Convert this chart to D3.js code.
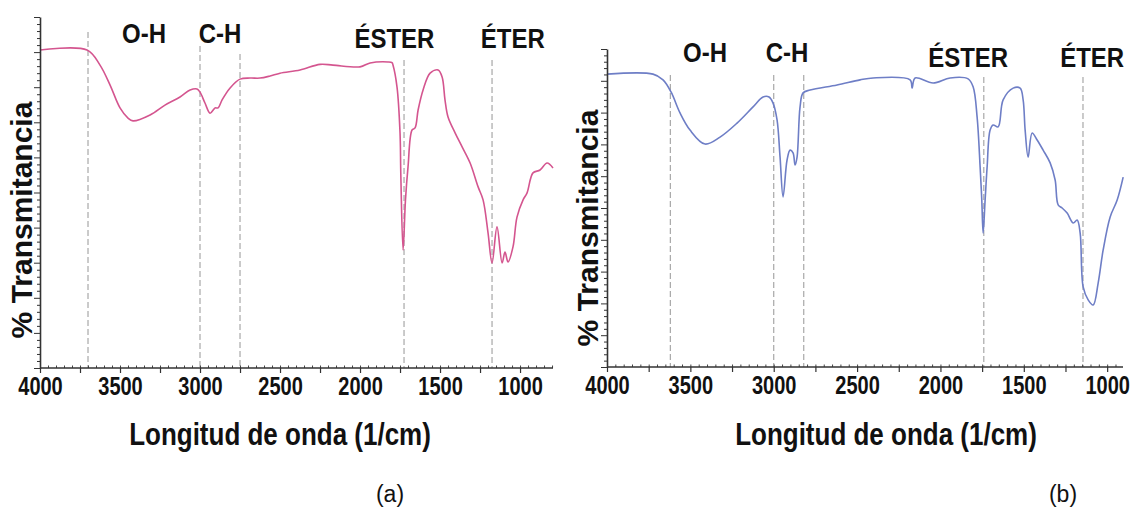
<!DOCTYPE html>
<html>
<head>
<meta charset="utf-8">
<script src="https://cdn.jsdelivr.net/npm/d3@7"></script>
<style>
body{margin:0;background:#fff;}
text{font-family:"Liberation Sans",Arial,sans-serif;fill:#111;}
</style>
</head>
<body>
<div id="chart"></div>
<script>
// spectrum (a)
var waveA = [4000,3706,3625,3562,3500,3450,3419,3312,3219,3125,3062,3019,3000,2969,2937,2906,2887,2862,2812,2750,2687,2625,2562,2500,2375,2250,2169,2000,1937,1825,1800,1794,1769,1750,1745,1731,1716,1700,1675,1656,1637,1606,1562,1512,1487,1469,1450,1406,1362,1312,1262,1231,1200,1175,1144,1112,1094,1075,1044,1019,981,956,919,875,831,794];
var transA = [90.6,90.6,86.3,80.6,74.1,71.2,70.4,72.1,74.9,77.2,79.2,79.5,78.6,75.5,72.6,74.1,74.1,76.4,79.8,82.3,82.6,82.6,83.2,84.0,84.9,86.5,86.3,85.8,86.9,87.2,87.0,86.3,80.1,67.0,55.0,33.6,47.9,57.3,67.8,68.4,73.5,79.2,84.0,84.9,82.9,76.4,71.5,67.0,63.0,58.4,51.6,47.9,38.5,29.9,40.2,29.9,33.0,30.2,34.5,43.0,47.9,49.9,55.6,56.4,58.4,57.0];

// spectrum (b)
var waveB = [4000,3724,3664,3616,3562,3502,3412,3322,3220,3124,3064,3028,3004,2980,2962,2944,2920,2902,2884,2872,2860,2842,2824,2782,2620,2482,2404,2182,2170,2152,2044,1942,1834,1804,1780,1762,1752,1744,1732,1720,1702,1684,1654,1624,1564,1522,1504,1492,1474,1450,1420,1384,1342,1312,1294,1270,1240,1204,1180,1162,1144,1114,1084,1054,1024,982,940,904];
var transB = [92.1,92.1,90.3,86.5,79.9,74.5,70.1,72.3,76.7,81.8,84.9,84.9,83.0,77.7,66.0,53.5,65.1,68.2,67.3,63.5,66.0,81.8,86.2,87.1,88.7,90.3,90.9,90.3,87.7,90.9,89.3,90.9,90.6,88.1,78.6,62.9,52.5,42.1,52.5,62.9,74.5,76.1,75.5,84.0,87.7,87.7,84.0,74.5,66.0,73.6,71.4,68.2,64.2,58.8,51.0,50.0,48.4,45.3,46.2,42.1,25.2,21.1,19.5,26.4,36.8,47.2,52.5,59.7];

var xTicks = [4000,3500,3000,2500,2000,1500,1000];
var groupNames = ["O-H","C-H","ÉSTER","ÉTER"];
var markersA = [3700,3000,2750,1725,1175];
var markersB = [3620,3000,2820,1740,1145];
var labelWaveA = [3350,2875,1785,1045];
var labelWaveB = [3412,2920,1834,1090];
var panelNames = ["(a)","(b)"];

var svg = d3.select("#chart").append("svg")
	.attr("width",1136)
	.attr("height",509);

function drawPanel(p){
	var x = d3.scaleLinear().domain(p.domain).range([p.left,p.right]);
	var y = d3.scaleLinear().domain([0,100]).range([p.bottom,p.top]);
	var g = svg.append("g");

	// dashed guide lines
	g.selectAll("line.guide")
		.data(p.markers)
		.enter()
		.append("line")
		.attr("class","guide")
		.attr("x1",function(d){ return x(d); })
		.attr("x2",function(d){ return x(d); })
		.attr("y1",function(d,i){ return p.guideTop[i]; })
		.attr("y2",p.bottom)
		.attr("stroke","#a8a8a8")
		.attr("stroke-width",1.2)
		.attr("stroke-dasharray","6,3");

	// spectrum
	var line = d3.line()
		.x(function(d,i){ return x(p.wave[i]); })
		.y(function(d){ return y(d); })
		.curve(d3.curveCatmullRom.alpha(0.5));
	g.append("path")
		.datum(p.trans)
		.attr("d",line)
		.attr("fill","none")
		.attr("stroke",p.color)
		.attr("stroke-width",1.6);

	// x axis: small ticks above, bigger ticks below
	var minor = d3.range(p.domain[0],p.domain[1],-50);
	g.append("g")
		.attr("transform","translate(0,"+p.bottom+")")
		.call(d3.axisTop(x).tickValues(minor).tickSize(2.5).tickFormat(""))
		.call(function(a){ a.select(".domain").remove(); a.selectAll("line").attr("stroke","#444"); });
	var xAxis = g.append("g")
		.attr("transform","translate(0,"+p.bottom+")")
		.call(d3.axisBottom(x).tickValues(d3.range(4000,p.domain[1],-250)).tickSize(5).tickSizeOuter(0)
			.tickFormat(function(d){ return xTicks.indexOf(d)>=0 ? d : ""; }));
	xAxis.select(".domain").attr("stroke","#333").attr("stroke-width",1.6).attr("d","M"+p.left+",0H"+p.right);
	xAxis.selectAll("line").attr("stroke","#333").attr("stroke-width",1.2);
	xAxis.selectAll("text")
		.attr("y",21.5).attr("dy",0)
		.attr("transform","scale(1,1.25)")
		.style("font-size","20px")
		.style("font-weight","bold")
		.attr("fill","#111");

	// y axis with no labels
	var yAxis = g.append("g")
		.attr("transform","translate("+p.left+",0)")
		.call(d3.axisLeft(y).tickValues(d3.range(0,101,2)).tickSize(3).tickFormat("").tickSizeOuter(0));
	yAxis.selectAll(".tick line")
		.attr("x2",function(d){ return d%10===0 ? -6 : -3; })
		.attr("stroke","#333");
	yAxis.select(".domain").attr("stroke","#333").attr("stroke-width",1.6);

	// group labels
	g.selectAll("text.grp")
		.data(groupNames)
		.enter()
		.append("text")
		.attr("class","grp")
		.attr("transform",function(d,i){
			return "translate("+x(p.labelWave[i])+","+(i<2 ? p.labelY : p.labelY+5)+") scale(1,1.12)";
		})
		.attr("text-anchor","middle")
		.style("font-size","24px")
		.style("font-weight","bold")
		.text(function(d){ return d; });

	// axis titles
	g.append("text")
		.attr("transform","translate("+p.yTitleX+","+p.yTitleY+") rotate(-90)")
		.attr("text-anchor","middle")
		.style("font-size","30px")
		.style("font-weight","bold")
		.text("% Transmitancia");
	g.append("text")
		.attr("transform","translate("+p.xTitleX+",445) scale(1,1.2)")
		.attr("text-anchor","middle")
		.style("font-size","26px")
		.style("font-weight","bold")
		.text("Longitud de onda (1/cm)");
	g.append("text")
		.attr("x",p.nameX)
		.attr("y",502)
		.attr("text-anchor","middle")
		.style("font-size","23px")
		.text(p.name);
}

drawPanel({
	wave:waveA, trans:transA, domain:[4000,794], markers:markersA, labelWave:labelWaveA,
	left:40, right:553, top:17, bottom:368, guideTop:[32,46,54,60,60], labelY:43,
	color:"#d4558f", yTitleX:32, yTitleY:220, xTitleX:280, nameX:390, name:panelNames[0]
});
drawPanel({
	wave:waveB, trans:transB, domain:[4000,905], markers:markersB, labelWave:labelWaveB,
	left:607, right:1123, top:49, bottom:367, guideTop:[75,75,75,77,77], labelY:62,
	color:"#6e7ec6", yTitleX:598, yTitleY:228, xTitleX:886, nameX:1063, name:panelNames[1]
});
</script>
</body>
</html>
